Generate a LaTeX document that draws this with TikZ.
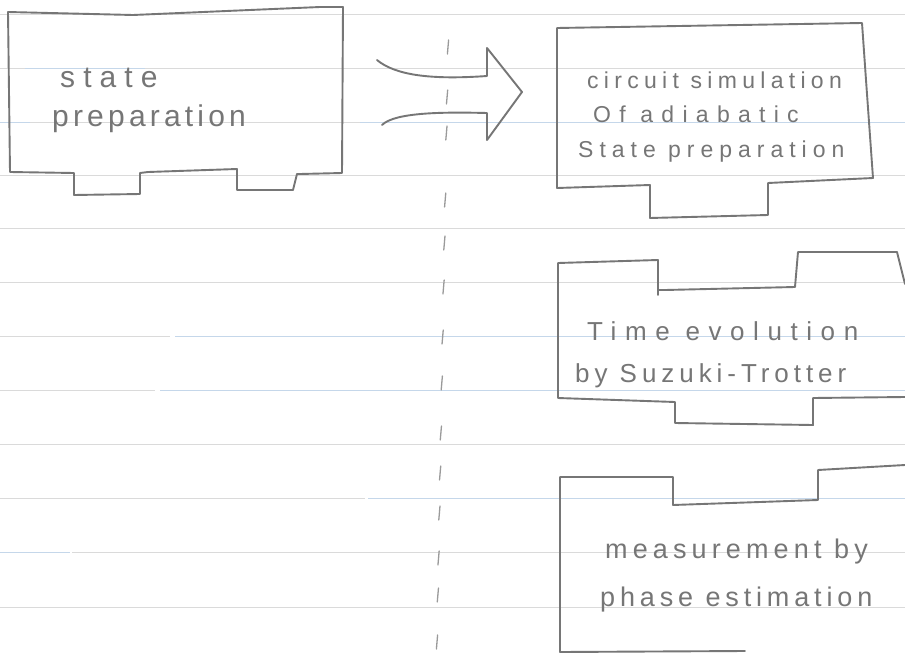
\documentclass[tikz,border=0pt]{standalone}
\usepackage{fontspec}
\newfontfamily\hand{Liberation Sans}
\newcommand\myhwf[2]{\hand\fontsize{#1}{#1}\selectfont\addfontfeatures{LetterSpace=#2}}
\definecolor{inkc}{HTML}{767676}
\definecolor{rulegray}{HTML}{DADADA}
\definecolor{ruleblue}{HTML}{C5D7EA}
\definecolor{dashc}{HTML}{9A9A9A}
\tikzset{
  ink/.style={draw=inkc, line width=1.9pt, line join=round, line cap=round},
  rulel/.style={draw=rulegray, line width=0.9pt},
  ruleb/.style={draw=ruleblue, line width=0.9pt},
  hw/.style={anchor=base west, inner sep=0pt, text=inkc},
  vdash/.style={draw=dashc, line width=1.3pt, line cap=round},
}
\begin{document}
\begin{tikzpicture}[x=1pt,y=-1pt]
\useasboundingbox (0,0) rectangle (905,653);
\fill[white] (0,0) rectangle (905,653);
% ruled paper lines
\foreach \yy in {14,68,175,228,282,444,607}{\draw[rulel] (0,\yy) -- (905,\yy);}
\draw[rulel] (0,122) -- (360,122); \draw[ruleb] (0,122) -- (30,122); \draw[ruleb] (360,122) -- (905,122);
\draw[rulel] (0,336) -- (170,336); \draw[ruleb] (175,336) -- (905,336);
\draw[rulel] (0,390) -- (155,390); \draw[ruleb] (160,390) -- (905,390);
\draw[rulel] (0,498) -- (365,498); \draw[ruleb] (368,498) -- (905,498);
\draw[ruleb] (0,552) -- (70,552); \draw[rulel] (72,552) -- (905,552);
\draw[ruleb] (25,68) -- (145,68);
% vertical dashed divider
\foreach \yc in {47,97,133,200,243,287,337,383,433,473,513,558,595,642}{
  \pgfmathsetmacro{\xc}{448-11*(\yc-47)/595}
  \draw[vdash] (\xc+0.6,\yc-7) -- (\xc-0.6,\yc+7);
}
% box 1
\draw[ink] (8,12) -- (133,15) -- (320,7) -- (343,7) -- (342,173) -- (300,174)
  -- (297,174) -- (293,190) -- (237,190) -- (237,169) -- (148,172)
  -- (140,173) -- (140,194) -- (74,195) -- (74,173) -- (10,172) -- cycle;
\node[hw, font=\myhwf{30pt}{27}] (t1a) at (60,87) {state};
\node[hw, font=\myhwf{30pt}{14}] (t1b) at (52,126) {preparation};
% block arrow
\draw[ink] (377,60) .. controls (395,75) and (430,80) .. (487,76) -- (487,48)
  -- (522,92) -- (487,140) -- (487,113) .. controls (445,112) and (395,112) .. (382,125);
% box 2
\draw[ink] (557,28) -- (862,23) -- (866,80) -- (873,178) -- (768,183) -- (768,215)
  -- (650,218) -- (650,185) -- (557,188) -- cycle;
\node[hw, font=\myhwf{23pt}{23}] (t2a) at (587,88) {circuit simulation};
\node[hw, font=\myhwf{23pt}{36}] (t2b) at (593,122) {Of adiabatic};
\node[hw, font=\myhwf{23pt}{26}] (t2c) at (578,157) {State preparation};
% box 3
\draw[ink] (905,284) -- (897,252) -- (798,252) -- (795,287) -- (665,290) -- (658,290)
  -- (658,295) -- (658,260) -- (558,263) -- (558,398) -- (675,402) -- (675,423)
  -- (813,425) -- (813,398) -- (905,397);
\node[hw, font=\myhwf{26pt}{33}] (t3a) at (587,340) {Time evolution};
\node[hw, font=\myhwf{26pt}{19}] (t3b) at (575,382) {by Suzuki-Trotter};
% box 4
\draw[ink] (905,465) -- (818,470) -- (818,500) -- (673,505) -- (673,477) -- (560,477)
  -- (560,652) -- (745,651);
\node[hw, font=\myhwf{27pt}{19}] (t4a) at (605,558) {measurement by};
\node[hw, font=\myhwf{27pt}{18}] (t4b) at (600,606) {phase estimation};
\end{tikzpicture}
\end{document}
